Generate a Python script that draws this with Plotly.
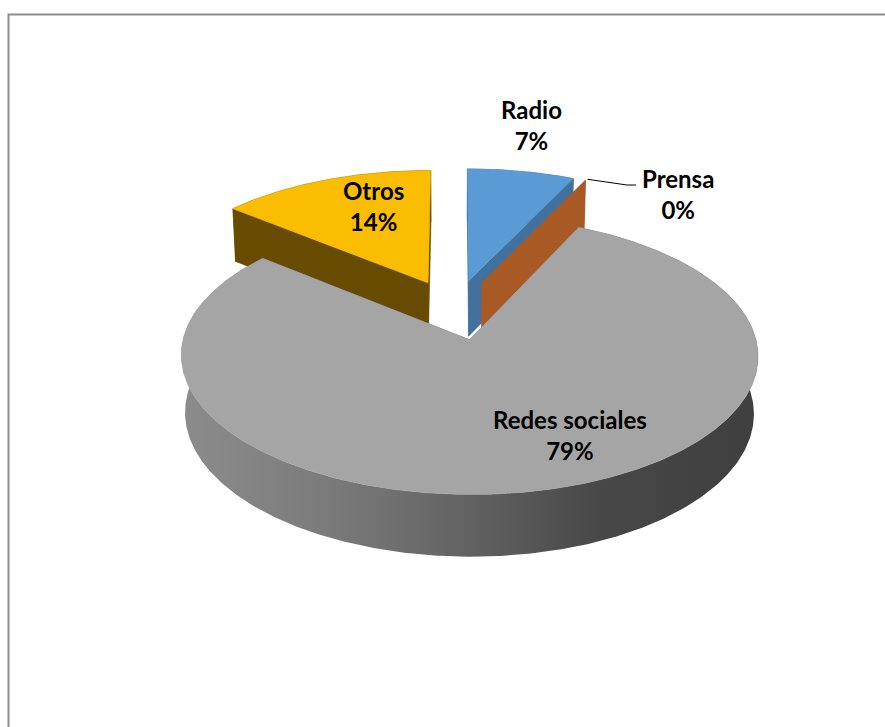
import numpy as np
import plotly.graph_objects as go

# ---------------- data ----------------
categories = ["Radio", "Prensa", "Redes sociales", "Otros"]
values = [7, 0, 79, 14]
pct_labels = ["7%", "0%", "79%", "14%"]

# ---------------- style ----------------
top_colors = ["#5B9BD5", "#ED7D31", "#A5A5A5", "#FBBD00"]
side_colors = ["#41719C", "#A95A24", "#6E6E6E", "#664B00"]
wall_gradient = [[0.0, "#8C8C8C"], [0.26, "#7A7A7A"], [0.5, "#626262"],
                 [0.73, "#474747"], [1.0, "#3F3F3F"]]
label_pos = {"Radio": (531, 124.5), "Prensa": (678, 194),
             "Redes sociales": (569.5, 434.5), "Otros": (373.5, 206)}

W, H = 885, 727
ALPHA = np.radians(27.8)   # elevation of the view
DIST = 8.0                 # camera distance (pie radius = 1)
FOCAL = 2235.0
CX, CY = 455.0, 309.6      # screen position of pie centre
EXPLODE = 0.232
THICK = 0.231
NSEG = 720


def proj(X, Y, Z):
    a, b = np.sin(ALPHA), np.cos(ALPHA)
    yc = Y * a + Z * b
    depth = DIST + Y * b - Z * a
    return CX + FOCAL * X / depth, CY - FOCAL * yc / depth


def arc(ox, oy, t0, t1, z):
    n = max(2, int(NSEG * (t1 - t0) / (2 * np.pi)) + 2)
    t = np.linspace(t0, t1, n)
    return ox + np.sin(t), oy + np.cos(t), np.full(n, z)


fig = go.Figure()


def add_poly(X, Y, Z, color, gradient=None):
    u, v = proj(np.asarray(X), np.asarray(Y), np.asarray(Z))
    u = np.append(u, u[0])
    v = np.append(v, v[0])
    kw = dict(x=u, y=v, mode="lines", fill="toself", hoverinfo="skip",
              showlegend=False)
    if gradient is not None:
        kw["fillgradient"] = dict(type="horizontal", colorscale=gradient,
                                  start=float(u.min()), stop=float(u.max()))
        kw["line"] = dict(width=0)
    else:
        kw["fillcolor"] = color
        kw["line"] = dict(color=color, width=0.6)
    fig.add_trace(go.Scatter(**kw))


vals = np.array(values, dtype=float)
fr = vals / vals.sum()
ends = np.cumsum(fr) * 2 * np.pi
starts = ends - fr * 2 * np.pi

slices = []
for i in range(len(values)):
    t0, t1 = starts[i], ends[i]
    mid = 0.5 * (t0 + t1)
    ox, oy = EXPLODE * np.sin(mid), EXPLODE * np.cos(mid)
    beta = 0.5 * (t1 - t0)
    rc = 2 / 3 if beta < 1e-9 else 2 * np.sin(beta) / (3 * beta)
    key = oy + rc * np.cos(mid)   # far-ness of centroid
    slices.append((key, i, t0, t1, ox, oy))

# painter's order: far slices first
slices.sort(key=lambda s: -s[0])

for key, i, t0, t1, ox, oy in slices:
    # outer wall
    if t1 - t0 > 1e-9:
        xa, ya, za = arc(ox, oy, t0, t1, 0.0)
        xb, yb, zb = arc(ox, oy, t0, t1, -THICK)
        X = np.concatenate([xa, xb[::-1]])
        Y = np.concatenate([ya, yb[::-1]])
        Z = np.concatenate([za, zb[::-1]])
        grad = wall_gradient if categories[i] == "Redes sociales" else None
        add_poly(X, Y, Z, side_colors[i], grad)
    # radial faces
    for t in (t0, t1):
        X = [ox, ox + np.sin(t), ox + np.sin(t), ox]
        Y = [oy, oy + np.cos(t), oy + np.cos(t), oy]
        Z = [0, 0, -THICK, -THICK]
        add_poly(X, Y, Z, side_colors[i])
    # top face
    if t1 - t0 > 1e-9:
        xa, ya, za = arc(ox, oy, t0, t1, 0.0)
        X = np.concatenate([[ox], xa])
        Y = np.concatenate([[oy], ya])
        Z = np.concatenate([[0.0], za])
        add_poly(X, Y, Z, top_colors[i])

# leader line for the tiny slice (Prensa)
ip = categories.index("Prensa")
tp = starts[ip]
oxp, oyp = EXPLODE * np.sin(tp), EXPLODE * np.cos(tp)
u0, v0 = proj(np.array(oxp + np.sin(tp)), np.array(oyp + np.cos(tp)), np.array(0.0))
lx, ly = label_pos["Prensa"]
fig.add_trace(go.Scatter(x=[float(u0) + 2, lx - 51, lx - 42],
                         y=[float(v0) - 1, ly - 9, ly - 9],
                         mode="lines", line=dict(color="#000000", width=1),
                         hoverinfo="skip", showlegend=False))

for cat, pct in zip(categories, pct_labels):
    x, y = label_pos[cat]
    fig.add_annotation(x=x, y=y, xref="x", yref="y", text=f"{cat}<br>{pct}",
                       showarrow=False, xanchor="center", yanchor="middle",
                       align="center",
                       font=dict(family="Lato", size=24, color="#000000",
                                 weight="bold"))

fig.add_shape(type="rect", xref="x", yref="y", x0=8.5, y0=14.5, x1=W + 20,
              y1=H + 20, line=dict(color="#8C8C8C", width=2),
              fillcolor="rgba(0,0,0,0)", layer="above")

fig.update_layout(
    width=W, height=H, margin=dict(l=0, r=0, t=0, b=0),
    paper_bgcolor="#FFFFFF", plot_bgcolor="#FFFFFF",
    xaxis=dict(range=[0, W], visible=False, fixedrange=True),
    yaxis=dict(range=[H, 0], visible=False, fixedrange=True),
    showlegend=False,
)

fig.write_html("out.html", config={"displayModeBar": False},
               post_script="document.body.style.margin='0';"
                           "document.body.style.overflow='hidden';")
